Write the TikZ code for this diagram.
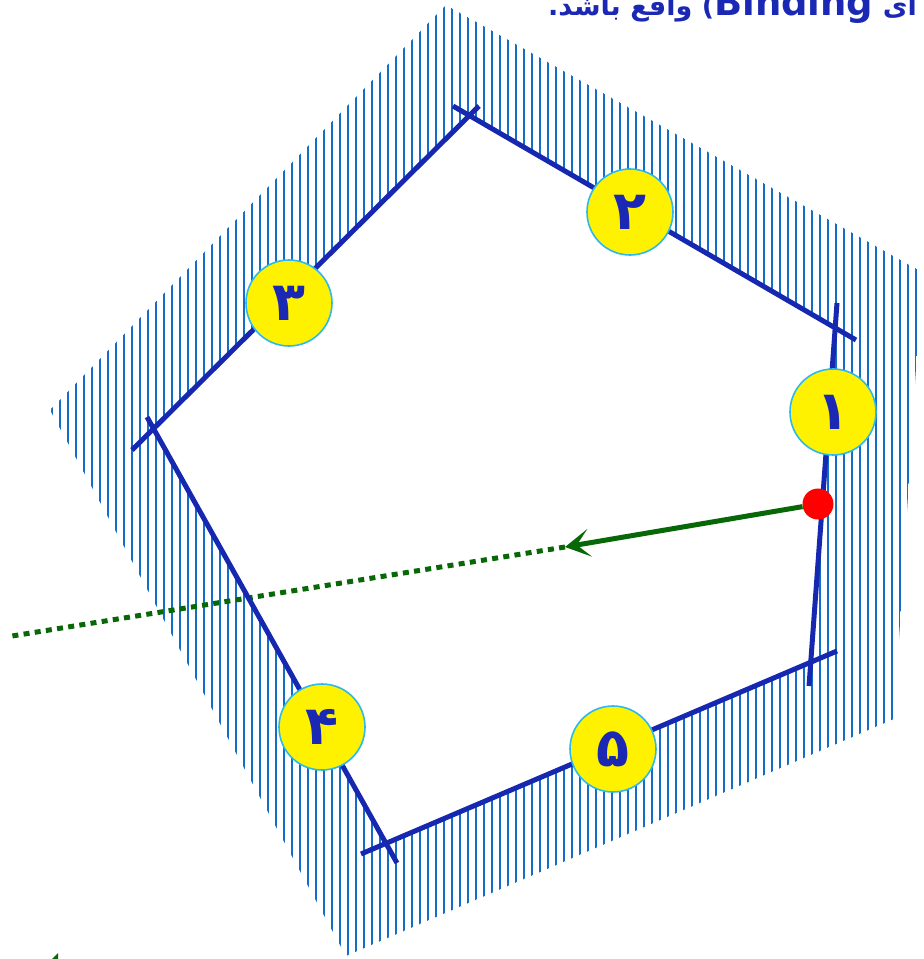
\documentclass[tikz,border=0pt]{standalone}
\usepackage{fontspec}
\usetikzlibrary{arrows.meta}
\TeXXeTstate=1
\newfontfamily\arabicfont[Script=Arabic]{DejaVu Sans}
\newfontfamily\latinbold{DejaVu Sans}
\definecolor{edgeblue}{RGB}{22,40,176}
\definecolor{hatchblue}{RGB}{18,110,200}
\definecolor{ringblue}{RGB}{45,185,235}
\definecolor{dgreen}{RGB}{8,104,8}
\definecolor{digitblue}{RGB}{26,40,180}
\tikzset{
  edgeline/.style={draw=edgeblue, line width=5pt},
  hatchline/.style={draw=hatchblue, line width=2.2pt},
  numdisc/.style={circle, fill=yellow, draw=ringblue, line width=1.6pt, minimum size=86pt, inner sep=0pt,
    text=digitblue, font=\arabicfont\bfseries\fontsize{54}{54}\selectfont},
  reddot/.style={circle, fill=red, minimum size=31pt, inner sep=0pt},
  greenarrow/.style={draw=dgreen, line width=5pt, -{Stealth[length=25pt,width=28pt,inset=13pt]}},
  dotline/.style={draw=dgreen, line width=5pt, dash pattern=on 6pt off 5.3pt},
  titletext/.style={anchor=base west, inner sep=0pt, text=digitblue, font=\arabicfont\bfseries\fontsize{27}{34}\selectfont}
}
\begin{document}
\begin{tikzpicture}[x=1pt,y=-1pt]
\useasboundingbox (0,0) rectangle (924,959);
% outer and inner outlines of the hatched band
\coordinate (o1) at (446,5);
\coordinate (o2) at (922,272);
\coordinate (o3) at (894,719);
\coordinate (o4) at (346,956);
\coordinate (o5) at (50,410);
\coordinate (v1) at (470,115);
\coordinate (v2) at (835,327);
\coordinate (v3) at (809,662);
\coordinate (v4) at (386,842);
\coordinate (v5) at (153,427);
\begin{scope}[even odd rule]
  \clip (o1) -- (o2) -- (o3) -- (o4) -- (o5) -- cycle
        (v1) -- (v2) -- (v3) -- (v4) -- (v5) -- cycle;
  \foreach \x in {44,52,...,924} \draw[hatchline] (\x,0) -- (\x,959);
\end{scope}
% dotted continuation and arrow
\coordinate (tip) at (565,547);
\coordinate (dend) at (12,636);
\draw[dotline] (tip) -- (dend);
% edges (extended slightly past the vertices)
\coordinate (l3a) at (132,450); \coordinate (l3b) at (479,106);
\coordinate (l2a) at (453,106); \coordinate (l2b) at (856,340);
\coordinate (l1a) at (837,303); \coordinate (l1b) at (809,686);
\coordinate (l5a) at (837,651); \coordinate (l5b) at (361,854);
\coordinate (l4a) at (147,417); \coordinate (l4b) at (397,863);
\draw[edgeline] (l3a) -- (l3b);
\draw[edgeline] (l2a) -- (l2b);
\draw[edgeline] (l1a) -- (l1b);
\draw[edgeline] (l5a) -- (l5b);
\draw[edgeline] (l4a) -- (l4b);
% numbered discs
\node[numdisc] (c1) at (833,412) {۱};
\node[numdisc] (c2) at (630,212) {۲};
\node[numdisc] (c3) at (289,303) {۳};
\node[numdisc] (c4) at (322,727) {۴};
\node[numdisc] (c5) at (613,749) {۵};
% red point and arrow
\node[reddot] (dot) at (818,504) {};
\draw[greenarrow] (dot) -- (tip);
% fragment at bottom left
\coordinate (g1) at (52,959); \coordinate (g2) at (58,953); \coordinate (g3) at (58,959);
\fill[dgreen] (g1) -- (g2) -- (g3) -- cycle;
% title, cut off at the top
\node[titletext] (title) at (548,15) {\beginR ای {\latinbold\bfseries\fontsize{37}{37}\selectfont\beginL Binding\endL}) واقع باشد.\endR};
\end{tikzpicture}
\end{document}
